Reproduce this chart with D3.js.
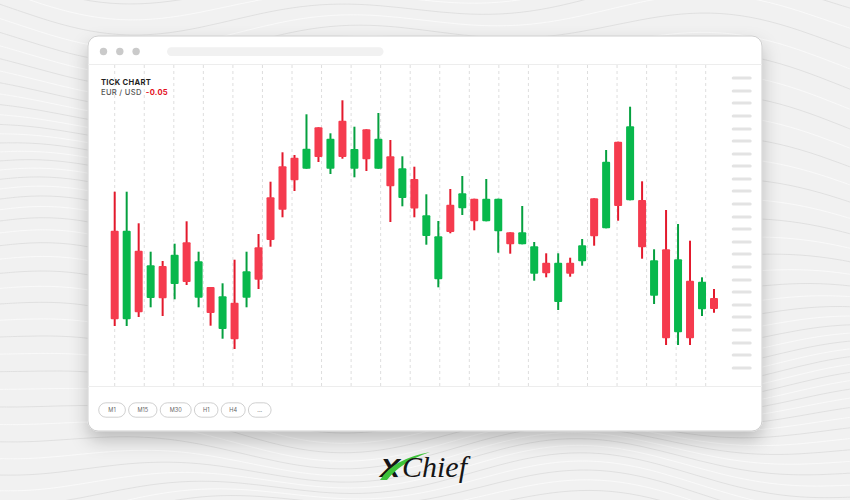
<!DOCTYPE html>
<html><head><meta charset="utf-8">
<script src="https://cdn.jsdelivr.net/npm/d3@7"></script>
<style>html,body{margin:0;padding:0;background:#f2f2f2;overflow:hidden}</style>
</head><body><svg id="c" width="850" height="500"></svg>
<script>
// ---- data ----
const opens  = [1.08493,1.07607,1.08293,1.07820,1.08140,1.07960,1.08377,1.07823,1.07930,1.07510,1.07773,1.07823,1.08327,
                1.08827,1.09137,1.09223,1.09113,1.09527,1.09113,1.09593,1.09113,1.09507,1.09113,1.09237,1.08820,1.09010,
                1.08440,1.08007,1.08753,1.08717,1.08813,1.08587,1.08487,1.08477,1.08357,1.08063,1.08173,1.07780,1.08173,
                1.08187,1.08817,1.08517,1.09383,1.08797,1.08800,1.07843,1.08307,1.07477,1.07993,1.07707,1.07820];
const highs  = [1.08883,1.08883,1.08567,1.08283,1.08190,1.08363,1.08587,1.08283,1.07930,1.07967,1.08203,1.08283,1.08460,
                1.08983,1.09277,1.09250,1.09657,1.09527,1.09467,1.09797,1.09533,1.09507,1.09670,1.09400,1.09237,1.09133,
                1.08857,1.08590,1.08910,1.09040,1.08813,1.09010,1.08813,1.08477,1.08740,1.08380,1.08267,1.08267,1.08223,
                1.08410,1.08817,1.09300,1.09383,1.09733,1.08987,1.08307,1.08700,1.08560,1.08393,1.08027,1.07910];
const lows   = [1.07540,1.07540,1.07630,1.07727,1.07640,1.07807,1.07950,1.07727,1.07543,1.07413,1.07310,1.07727,1.07910,
                1.08333,1.08627,1.08890,1.09113,1.09180,1.09060,1.09213,1.09027,1.09090,1.09113,1.08580,1.08737,1.08627,
                1.08353,1.07927,1.08467,1.08650,1.08497,1.08587,1.08273,1.08263,1.08357,1.07993,1.08027,1.07700,1.08033,
                1.08143,1.08343,1.08517,1.08593,1.08797,1.08213,1.07760,1.07350,1.07350,1.07350,1.07640,1.07673];
const closes = [1.07607,1.08493,1.07677,1.08147,1.07817,1.08253,1.07980,1.08187,1.07670,1.07837,1.07407,1.08087,1.08003,
                1.08400,1.08703,1.08997,1.09313,1.09230,1.09413,1.09230,1.09310,1.09207,1.09413,1.08937,1.09117,1.08715,
                1.08647,1.08437,1.08480,1.08867,1.08587,1.08813,1.08813,1.08357,1.08477,1.08337,1.08067,1.08173,1.08063,
                1.08347,1.08437,1.09183,1.08740,1.09537,1.08327,1.08197,1.07417,1.08207,1.07417,1.07983,1.07710];
const priceTicks = [1.1002,1.0989,1.0977,1.0964,1.0951,1.0939,1.0926,1.0914,1.0901,1.0889,1.0876,1.0863,
                    1.0851,1.0838,1.0826,1.0813,1.0800,1.0788,1.0775,1.0763,1.0750,1.0737,1.0725,1.0712];
const gridSlots = d3.range(21);
const timeframes = ["M1","M15","M30","H1","H4","..."];
const title = "TICK CHART", pair = "EUR / USD", change = "-0.05";

const candles = opens.map((o,i)=>({i, o, h:highs[i], l:lows[i], c:closes[i]}));

// ---- layout ----
const svg = d3.select("#c");
const W = 850, H = 500;
const win = {x:88, y:36, w:674, h:395, r:10};
const RED = "#f53b4e", RED_W = "#e3192c", GREEN = "#08b84c", GREEN_W = "#05a03f";

// background waves (decorative)
const bg = svg.append("g");
bg.append("rect").attr("width",W).attr("height",H).attr("fill","#f1f1f1");
const waveLine = d3.line().curve(d3.curveBasis);
for (let k=0;k<46;k++){
  const base = -40 + k*12.5;
  const pts = d3.range(0, 861, 20).map(x=>[x,
      base + 22*Math.sin(x/170 + k*0.18) + 14*Math.sin(x/63 - k*0.11) + 0.10*x*Math.sin(k*0.07)]);
  bg.append("path").attr("d", waveLine(pts)).attr("fill","none")
    .attr("stroke", k%2 ? "#dcdcdc" : "#fbfbfb").attr("stroke-width", 0.8);
}

// shadow filter
const defs = svg.append("defs");
const f = defs.append("filter").attr("id","sh").attr("x","-10%").attr("y","-10%").attr("width","120%").attr("height","130%");
f.append("feDropShadow").attr("dx",0).attr("dy",9).attr("stdDeviation",9).attr("flood-color","#000").attr("flood-opacity",0.22);

// window
svg.append("rect").attr("x",win.x).attr("y",win.y).attr("width",win.w).attr("height",win.h)
  .attr("rx",win.r).attr("fill","#fff").attr("stroke","#cfcfcf").attr("stroke-width",1).attr("filter","url(#sh)");

// title bar
svg.selectAll("circle.dot").data([0,1,2]).join("circle").attr("class","dot")
  .attr("cx",d=>103.5+d*16.3).attr("cy",51.5).attr("r",3.7).attr("fill","#cacaca");
svg.append("rect").attr("x",167).attr("y",47.3).attr("width",216.5).attr("height",8.6).attr("rx",4.3).attr("fill","#f1f1f1");
svg.append("line").attr("x1",win.x).attr("x2",win.x+win.w).attr("y1",64.5).attr("y2",64.5).attr("stroke","#ededed");
svg.append("line").attr("x1",win.x).attr("x2",win.x+win.w).attr("y1",386.5).attr("y2",386.5).attr("stroke","#ededed");

// scales
const x = d3.scaleLinear().domain([0, candles.length-1]).range([114.7, 714]);
const y = d3.scaleLinear().domain([1.072, 1.102]).range([360, 60]);
const gx = d3.scaleLinear().domain([0, 20]).range([114.7, 705.7]);

// vertical dashed grid
svg.append("g").selectAll("line").data(gridSlots).join("line")
  .attr("x1",d=>gx(d)).attr("x2",d=>gx(d)).attr("y1",65).attr("y2",386)
  .attr("stroke","#dedede").attr("stroke-width",1).attr("stroke-dasharray","3,3");

// price axis placeholders
svg.append("g").selectAll("rect").data(priceTicks).join("rect")
  .attr("x",731.7).attr("y",d=>y(d)-1.6).attr("width",20).attr("height",3.2).attr("rx",1.6)
  .attr("fill","#e3e3e3");

// candles
const cg = svg.append("g").selectAll("g").data(candles).join("g");
cg.append("line")
  .attr("x1",d=>x(d.i)).attr("x2",d=>x(d.i))
  .attr("y1",d=>y(d.h)).attr("y2",d=>y(d.l))
  .attr("stroke",d=>d.c>=d.o?GREEN_W:RED_W).attr("stroke-width",2);
cg.append("rect")
  .attr("x",d=>x(d.i)-4).attr("width",8)
  .attr("y",d=>y(Math.max(d.o,d.c)))
  .attr("height",d=>Math.max(1, y(Math.min(d.o,d.c))-y(Math.max(d.o,d.c))))
  .attr("rx",1).attr("fill",d=>d.c>=d.o?GREEN:RED);

// title text
svg.append("text").attr("x",101).attr("y",84.5).text(title)
  .attr("font-family","Inter, 'Open Sans', sans-serif").attr("font-weight",700).attr("font-size",7.6)
  .attr("letter-spacing",0.3).attr("fill","#1f1f1f");
const sub = svg.append("text").attr("x",101).attr("y",94.5)
  .attr("font-family","Inter, 'Open Sans', sans-serif").attr("font-size",7.6).attr("letter-spacing",0.3);
sub.append("tspan").text(pair).attr("fill","#555").attr("font-weight",500);
sub.append("tspan").text(" " + change).attr("fill","#e3101e").attr("font-weight",700).attr("dx",2);

// timeframe buttons
const btnW = [26.7, 28.4, 31, 23.6, 24, 22.7];
let bx = 98.7;
const btnPos = btnW.map(w=>{const p=bx; bx += w + 3.2; return p;});
const bgG = svg.append("g").selectAll("g").data(timeframes).join("g")
  .attr("transform",(d,i)=>`translate(${btnPos[i]},402.8)`);
bgG.append("rect").attr("width",(d,i)=>btnW[i]).attr("height",14.4).attr("rx",7.2)
  .attr("fill","#fff").attr("stroke","#c4c4c4").attr("stroke-width",0.8);
bgG.append("text").attr("x",(d,i)=>btnW[i]/2).attr("y",9.4).attr("text-anchor","middle")
  .attr("font-family","Inter, 'Open Sans', sans-serif").attr("font-size",5.6).attr("fill","#666").text(d=>d);

// logo
const logo = svg.append("g");
logo.append("text").attr("x",380).attr("y",477).text("X")
  .attr("font-family","'Liberation Sans', Arial, sans-serif").attr("font-weight",900).attr("font-style","italic")
  .attr("font-size",26).attr("fill","#151515").attr("transform","translate(380,477) scale(1.15,1) translate(-380,-477)");
logo.append("path").attr("d","M380,480 Q393,459 430,452 Q401,462 387,480 Z").attr("fill","#3ec33a");
logo.append("text").attr("x",402).attr("y",476.5).text("Chief")
  .attr("font-family","'Liberation Serif', serif").attr("font-style","italic")
  .attr("font-size",30).attr("fill","#151515");
</script></body></html>
